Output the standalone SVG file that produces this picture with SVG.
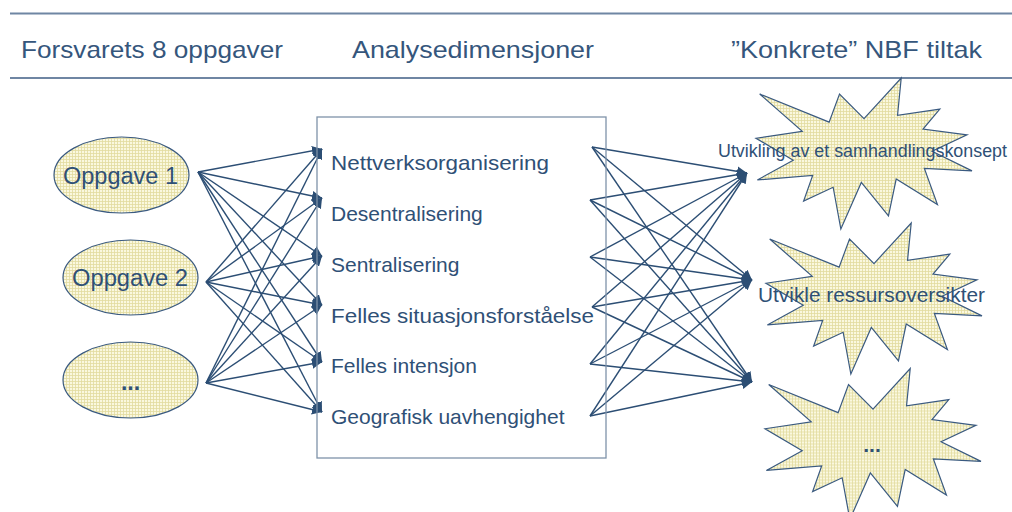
<svg xmlns="http://www.w3.org/2000/svg" width="1012" height="512" viewBox="0 0 1012 512">
<style>
.hdr{font-family:"Liberation Sans",Arial,sans-serif;font-size:24px;fill:#35567c}
.lbl{font-family:"Liberation Sans",Arial,sans-serif;font-size:21px;fill:#2f5076}
.opp{font-family:"Liberation Sans",Arial,sans-serif;font-size:23px;fill:#2f5076}
.rule{stroke:#6f86a3;stroke-width:2}
.node{fill:url(#grid);stroke:#3a5a80;stroke-width:1.2}
.con{stroke:#2c4e74;stroke-width:1.4;fill:none;marker-end:url(#ah)}
</style>
<defs>
<pattern id="grid" width="3" height="3" patternUnits="userSpaceOnUse">
<rect width="3" height="3" fill="#faf8df"/>
<path d="M0 0.5H3M0.5 0V3" stroke="#e2dba0" stroke-width="0.8"/>
</pattern>
<marker id="ah" markerUnits="userSpaceOnUse" markerWidth="11" markerHeight="10" refX="10" refY="5" orient="auto">
<path d="M0,0 L10,5 L0,10 z" fill="#2c4e74"/>
</marker>
<path id="star" d="M108,40.55 L145.22,0 L141.55,37.23 L183.8,31.16 L167.02,51.14 L210.97,56.88 L176.07,73.23 L216,92.91 L168.37,90.48 L181.45,126.5 L140.2,101.07 L132.47,137.98 L105.32,104.41 L84.85,151 L77.15,109.25 L47.62,123.16 L56.67,97.43 L1.35,101.97 L37.22,82.31 L0,60.23 L46.27,53.25 L3.7,16.04 L73.12,44.18 L83.52,16.04 Z"/>
</defs>
<rect width="1012" height="512" fill="#ffffff"/>
<g id="header">
<line class="rule" x1="10" y1="13.5" x2="1012" y2="13.5"/>
<line class="rule" x1="10" y1="78" x2="1012" y2="78"/>
<text class="hdr" x="21" y="57.5" textLength="262" lengthAdjust="spacingAndGlyphs">Forsvarets 8 oppgaver</text>
<text class="hdr" x="352" y="57.5" textLength="242" lengthAdjust="spacingAndGlyphs">Analysedimensjoner</text>
<text class="hdr" x="731" y="57.5" textLength="251" lengthAdjust="spacingAndGlyphs">”Konkrete” NBF tiltak</text>
</g>
<g id="connectors">
<line class="con" x1="198" y1="172" x2="322" y2="149"/>
<line class="con" x1="198" y1="172" x2="322" y2="198"/>
<line class="con" x1="198" y1="172" x2="322" y2="256"/>
<line class="con" x1="198" y1="172" x2="322" y2="305"/>
<line class="con" x1="198" y1="172" x2="322" y2="362"/>
<line class="con" x1="198" y1="172" x2="322" y2="412"/>
<line class="con" x1="206" y1="282" x2="322" y2="149"/>
<line class="con" x1="206" y1="282" x2="322" y2="198"/>
<line class="con" x1="206" y1="282" x2="322" y2="256"/>
<line class="con" x1="206" y1="282" x2="322" y2="305"/>
<line class="con" x1="206" y1="282" x2="322" y2="362"/>
<line class="con" x1="206" y1="282" x2="322" y2="412"/>
<line class="con" x1="206" y1="383" x2="322" y2="149"/>
<line class="con" x1="206" y1="383" x2="322" y2="198"/>
<line class="con" x1="206" y1="383" x2="322" y2="256"/>
<line class="con" x1="206" y1="383" x2="322" y2="305"/>
<line class="con" x1="206" y1="383" x2="322" y2="362"/>
<line class="con" x1="206" y1="383" x2="322" y2="412"/>
<line class="con" x1="592" y1="147" x2="747" y2="173"/>
<line class="con" x1="592" y1="147" x2="752" y2="280"/>
<line class="con" x1="592" y1="147" x2="752" y2="382"/>
<line class="con" x1="590" y1="200" x2="747" y2="173"/>
<line class="con" x1="590" y1="200" x2="752" y2="280"/>
<line class="con" x1="590" y1="200" x2="752" y2="382"/>
<line class="con" x1="590" y1="257" x2="747" y2="173"/>
<line class="con" x1="590" y1="257" x2="752" y2="280"/>
<line class="con" x1="590" y1="257" x2="752" y2="382"/>
<line class="con" x1="592" y1="307" x2="747" y2="173"/>
<line class="con" x1="592" y1="307" x2="752" y2="280"/>
<line class="con" x1="592" y1="307" x2="752" y2="382"/>
<line class="con" x1="590" y1="364" x2="747" y2="173"/>
<line class="con" x1="590" y1="364" x2="752" y2="280"/>
<line class="con" x1="590" y1="364" x2="752" y2="382"/>
<line class="con" x1="590" y1="416" x2="747" y2="173"/>
<line class="con" x1="590" y1="416" x2="752" y2="280"/>
<line class="con" x1="590" y1="416" x2="752" y2="382"/>
</g>
<g id="oppgave1">
<ellipse class="node" cx="121.5" cy="175" rx="67.5" ry="38"/>
<text class="opp" x="63" y="183.5" textLength="115" lengthAdjust="spacingAndGlyphs">Oppgave 1</text>
</g>
<g id="oppgave2">
<ellipse class="node" cx="130.5" cy="277.5" rx="67.5" ry="37.5"/>
<text class="opp" x="72" y="286" textLength="116" lengthAdjust="spacingAndGlyphs">Oppgave 2</text>
</g>
<g id="oppgave3">
<ellipse class="node" cx="130.5" cy="380" rx="67.5" ry="38"/>
<text class="opp" x="130.5" y="390" text-anchor="middle" style="font-weight:bold">...</text>
</g>
<g id="analysedimensjoner">
<rect x="317" y="117" width="289" height="341" fill="none" stroke="#7f93a9" stroke-width="1.3"/>
<text class="lbl" x="331" y="170" textLength="218" lengthAdjust="spacingAndGlyphs">Nettverksorganisering</text>
<text class="lbl" x="331" y="221">Desentralisering</text>
<text class="lbl" x="331" y="272">Sentralisering</text>
<text class="lbl" x="331" y="323" textLength="263" lengthAdjust="spacingAndGlyphs">Felles situasjonsforståelse</text>
<text class="lbl" x="331" y="373">Felles intensjon</text>
<text class="lbl" x="331" y="424">Geografisk uavhengighet</text>
</g>
<g id="tiltak1">
<use href="#star" class="node" transform="translate(756,78)"/>
<text class="lbl" x="718" y="157" style="font-size:17.5px" textLength="289" lengthAdjust="spacingAndGlyphs">Utvikling av et samhandlingskonsept</text>
</g>
<g id="tiltak2">
<use href="#star" class="node" transform="translate(766,223)"/>
<text class="lbl" x="758" y="302" textLength="227" lengthAdjust="spacingAndGlyphs">Utvikle ressursoversikter</text>
</g>
<g id="tiltak3">
<use href="#star" class="node" transform="translate(765,368.5)"/>
<text class="lbl" x="872" y="452" text-anchor="middle" style="font-weight:bold">...</text>
</g>
</svg>
